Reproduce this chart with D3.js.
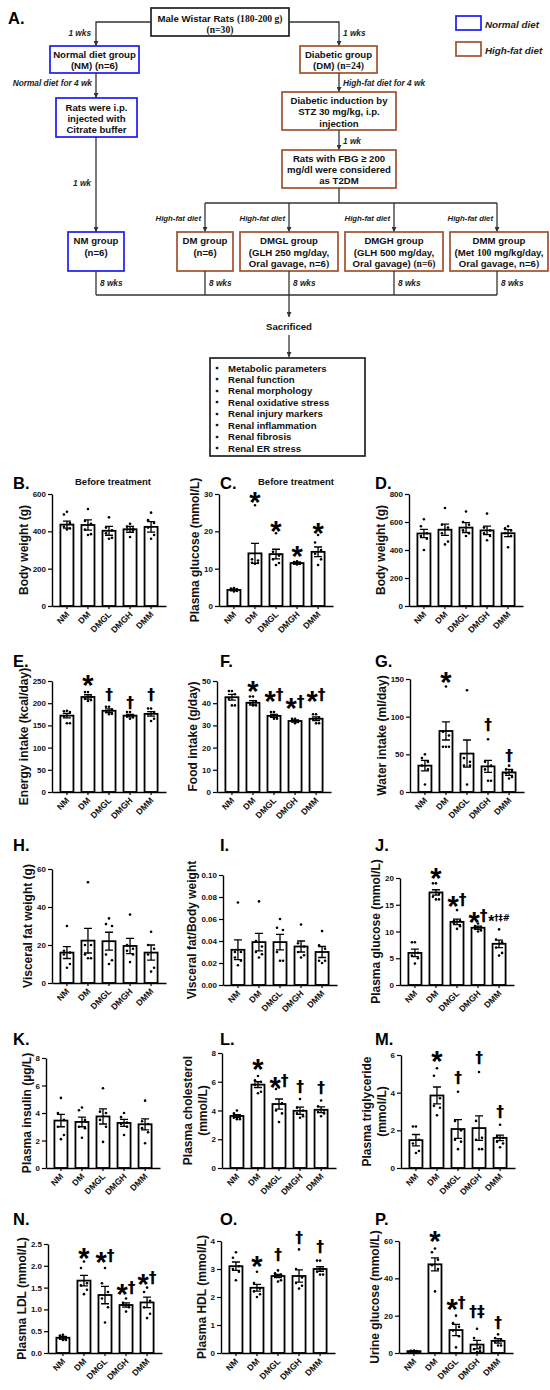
<!DOCTYPE html>
<html>
<head>
<meta charset="utf-8">
<script src="https://cdn.jsdelivr.net/npm/d3@7/dist/d3.min.js"></script>
<style>
  body { margin: 0; background: #fff; }
  svg { display: block; }
  text { font-family: "Liberation Sans", Arial, sans-serif; }
</style>
</head>
<body>
<svg id="fig" width="550" height="1390"></svg>
<script>
var groups = ["NM", "DM", "DMGL", "DMGH", "DMM"];

// B. body weight before treatment (g)
var bwPreMean = [436, 434, 403, 411, 424];
var bwPreSem = [19, 27, 24, 16, 28];
var bwPrePts = [[505, 490, 445, 425, 415, 410], [520, 455, 440, 410, 385, 380], [475, 420, 405, 390, 365, 360], [440, 425, 415, 410, 405, 370], [500, 460, 445, 420, 380, 360]];
var bwPreTicks = [0, 200, 400, 600];

// C. plasma glucose before treatment (mmol/L)
var glucPreMean = [4.3, 14.1, 13.9, 11.5, 14.5];
var glucPreSem = [0.2, 2.7, 1.3, 0.25, 1.3];
var glucPrePts = [[4.8, 4.7, 4.5, 4.2, 4.0, 3.9], [27, 12.5, 12.2, 11.6, 11.5, 11.3], [19.5, 14.5, 13.5, 12.5, 11.5, 11.0], [12.0, 11.8, 11.6, 11.4, 11.3, 11.1], [19, 17, 15, 14, 12.5, 11]];
var glucPreMarks = ["", "*", "*", "*", "*"];
var glucPreMarkY = [0, 29.5, 21.7, 15, 21.2];
var glucPreTicks = [0, 10, 20, 30];

// D. body weight (g)
var bwMean = [518, 545, 560, 540, 520];
var bwSem = [30, 40, 35, 30, 25];
var bwPts = [[620, 570, 520, 500, 480, 400], [700, 580, 560, 520, 460, 440], [675, 600, 580, 540, 520, 500], [660, 560, 540, 520, 500, 470], [570, 555, 540, 520, 500, 420]];
var bwTicks = [0, 200, 400, 600, 800];

// E. energy intake (kcal/day)
var energyMean = [172, 214, 183, 172, 176];
var energySem = [5, 5, 4, 3, 5];
var energyPts = [[183, 182, 180, 170, 155, 155], [225, 225, 215, 210, 207, 205], [192, 192, 185, 180, 176, 175], [180, 180, 172, 170, 168, 165], [188, 188, 180, 175, 165, 160]];
var energyMarks = ["", "*", "†", "†", "†"];
var energyMarkY = [0, 255, 218, 200, 218];
var energyTicks = [0, 50, 100, 150, 200, 250];

// F. food intake (g/day)
var foodMean = [42.7, 40.2, 34.3, 32.0, 33.0];
var foodSem = [1.3, 1.0, 0.7, 0.5, 0.8];
var foodPts = [[45.5, 45.5, 44, 42, 39, 39], [43, 43, 40.5, 40, 39, 39], [36, 36, 34.5, 34, 33, 33], [33, 33, 32, 32, 31.5, 31], [35, 35, 33.5, 33, 31, 31]];
var foodMarks = ["", "*", "*†", "*†", "*†"];
var foodMarkY = [0, 48.2, 43.7, 40.7, 43.7];
var foodTicks = [0, 10, 20, 30, 40, 50];

// G. water intake (ml/day)
var waterMean = [35, 81, 51, 34, 26];
var waterSem = [7, 12, 18, 8, 4];
var waterPts = [[50, 45, 40, 35, 30, 10], [140, 80, 75, 60, 60, 60], [135, 45, 40, 35, 35, 10], [70, 40, 35, 30, 15, 15], [35, 30, 28, 25, 20, 18]];
var waterMarks = ["", "*", "", "†", "†"];
var waterMarkY = [0, 154, 0, 89, 48];
var waterTicks = [0, 50, 100, 150];

// H. visceral fat weight (g)
var vfatMean = [16, 22.3, 22, 19.5, 16];
var vfatSem = [3.1, 6.5, 4.7, 4, 4];
var vfatPts = [[30, 17, 16, 15, 10, 8], [53, 20, 20, 15, 13, 13], [34, 31, 30, 15, 12, 10], [36, 20, 18, 17, 15, 11], [27, 20, 18, 15, 8, 6]];
var vfatTicks = [0, 20, 40, 60];

// I. visceral fat / body weight
var ratioMean = [0.032, 0.039, 0.039, 0.035, 0.030];
var ratioSem = [0.009, 0.008, 0.007, 0.005, 0.005];
var ratioPts = [[0.075, 0.030, 0.030, 0.025, 0.022, 0.018], [0.076, 0.040, 0.035, 0.030, 0.028, 0.025], [0.060, 0.052, 0.050, 0.030, 0.022, 0.022], [0.055, 0.038, 0.035, 0.030, 0.027, 0.025], [0.049, 0.036, 0.033, 0.022, 0.022, 0.020]];
var ratioTicks = [0, 0.02, 0.04, 0.06, 0.08, 0.10];

// J. plasma glucose (mmol/L)
var glucMean = [6.0, 17.3, 11.8, 10.7, 7.7];
var glucSem = [0.7, 0.5, 0.5, 0.3, 0.7];
var glucPts = [[8, 8, 6, 5.5, 5, 4], [19, 19, 17, 16.5, 16, 16], [14, 12, 12, 11.5, 11, 10.5], [11.5, 11, 10.8, 10.5, 10.2, 10], [10.4, 8.5, 8, 7, 6, 5.5]];
var glucMarks = ["", "*", "*†", "*†", "*†‡#"];
var glucMarkY = [0, 21.2, 15.9, 12.9, 12.4];
var glucTicks = [0, 5, 10, 15, 20];

// K. plasma insulin (µg/L)
var insMean = [3.45, 3.35, 3.75, 3.28, 3.18];
var insSem = [0.45, 0.35, 0.55, 0.25, 0.4];
var insPts = [[5.1, 4.0, 3.5, 3.0, 2.4, 2.1], [4.4, 4.2, 3.5, 3.0, 2.9, 2.2], [5.8, 4.1, 4.0, 3.5, 3.0, 1.9], [4.0, 3.7, 3.3, 3.2, 3.0, 2.4], [4.9, 3.4, 3.2, 2.9, 2.6, 1.8]];
var insTicks = [0, 2, 4, 6, 8];

// L. plasma cholesterol (mmol/L)
var cholMean = [3.62, 5.8, 4.45, 3.98, 4.05];
var cholSem = [0.1, 0.2, 0.35, 0.25, 0.2];
var cholPts = [[4.0, 3.8, 3.6, 3.5, 3.4, 3.4], [6.4, 6.1, 6.0, 5.8, 5.3, 5.2], [5.6, 5.5, 4.5, 4.0, 3.8, 3.2], [4.8, 4.2, 4.0, 3.8, 3.6, 3.5], [4.7, 4.3, 4.0, 3.9, 3.8, 3.6]];
var cholMarks = ["", "*", "*†", "†", "†"];
var cholMarkY = [0, 7.28, 6.07, 5.66, 5.54];
var cholTicks = [0, 2, 4, 6, 8];

// M. plasma triglyceride (mmol/L)
var tgMean = [1.48, 3.85, 2.07, 2.12, 1.6];
var tgSem = [0.3, 0.45, 0.5, 0.65, 0.15];
var tgPts = [[2.2, 2.2, 1.5, 1.3, 0.9, 0.8], [5.3, 4.9, 3.7, 3.3, 3.2, 2.8], [4.05, 2.5, 2.0, 1.5, 1.4, 1.0], [5.1, 2.5, 1.6, 1.5, 1.0, 1.0], [2.3, 1.7, 1.6, 1.4, 1.3, 1.1]];
var tgMarks = ["", "*", "†", "†", "†"];
var tgMarkY = [0, 6.0, 4.8, 5.83, 3.0];
var tgTicks = [0, 2, 4, 6];

// N. plasma LDL (mmol/L)
var ldlMean = [0.35, 1.66, 1.33, 1.1, 1.16];
var ldlSem = [0.03, 0.12, 0.2, 0.05, 0.12];
var ldlPts = [[0.42, 0.40, 0.35, 0.33, 0.30, 0.30], [2.1, 1.95, 1.6, 1.55, 1.45, 1.35], [1.95, 1.6, 1.4, 1.25, 1.05, 0.7], [1.25, 1.15, 1.1, 1.1, 1.05, 0.95], [1.5, 1.4, 1.2, 1.05, 0.9, 0.8]];
var ldlMarks = ["", "*", "*†", "*†", "*†"];
var ldlMarkY = [0, 2.32, 2.23, 1.5, 1.71];
var ldlTicks = [0, 0.5, 1.0, 1.5, 2.0, 2.5];

// O. plasma HDL (mmol/L)
var hdlMean = [3.1, 2.33, 2.75, 2.75, 3.0];
var hdlSem = [0.15, 0.12, 0.06, 0.22, 0.08];
var hdlPts = [[3.6, 3.4, 3.1, 3.0, 2.9, 2.6], [2.9, 2.5, 2.3, 2.2, 2.1, 2.0], [2.95, 2.85, 2.8, 2.75, 2.6, 2.55], [3.7, 3.0, 2.7, 2.5, 2.4, 2.3], [3.3, 3.3, 3.0, 2.9, 2.8, 2.8]];
var hdlMarks = ["", "*", "†", "†", "†"];
var hdlMarkY = [0, 3.32, 3.5, 4.12, 3.8];
var hdlTicks = [0, 1, 2, 3, 4];

// P. urine glucose (mmol/L)
var urineMean = [1, 47.5, 12.3, 4.5, 6.5];
var urineSem = [0.1, 3.5, 3.0, 2.3, 1.2];
var urinePts = [[1.3, 1.2, 1.0, 1.0, 0.9, 0.8], [56, 54, 50, 47, 45, 33], [20, 16, 14, 12, 9, 3], [13, 8, 3, 2, 1, 0.5], [10, 8, 7, 6, 4, 4]];
var urineMarks = ["", "*", "*†", "†‡", "†"];
var urineMarkY = [0, 63.2, 27, 22, 16.3];
var urineTicks = [0, 20, 40, 60];

var outcomes = ["Metabolic parameters", "Renal function", "Renal morphology", "Renal oxidative stress",
  "Renal injury markers", "Renal inflammation", "Renal fibrosis", "Renal ER stress"];

var BLUE = "#1c1cf2", BROWN = "#a0522d", LINE = "#333";
var svg = d3.select("#fig");

svg.append("defs").append("marker")
  .attr("id", "arr").attr("viewBox", "0 0 10 10").attr("refX", 10).attr("refY", 5)
  .attr("markerWidth", 5).attr("markerHeight", 5).attr("markerUnits", "userSpaceOnUse").attr("orient", "auto")
  .append("path").attr("d", "M0,0L10,5L0,10z").attr("fill", LINE);

function path(pts, arrow) {
  svg.append("path").attr("d", d3.line()(pts))
    .attr("fill", "none").attr("stroke", LINE).attr("stroke-width", 1.3)
    .attr("marker-end", arrow ? "url(#arr)" : null);
}

// text where {...} parts are set in a serif face
function richText(x, y, str, size, anchor) {
  var t = svg.append("text").attr("x", x).attr("y", y)
    .attr("font-size", size).attr("font-weight", "bold").attr("fill", "#111")
    .attr("text-anchor", anchor || "middle");
  str.split(/(\{[^}]*\})/).forEach(function (s) {
    if (!s) return;
    var serif = s.charAt(0) === "{";
    t.append("tspan").style("font-family", serif ? '"Liberation Serif", serif' : null)
      .text(serif ? s.slice(1, -1) : s);
  });
  return t;
}

function note(x, y, str, anchor, size) {
  svg.append("text").attr("x", x).attr("y", y).attr("font-size", size || 8.3)
    .attr("font-weight", "bold").attr("font-style", "italic").attr("fill", "#222")
    .attr("text-anchor", anchor || "start").text(str);
}

function box(x0, y0, x1, y1, color, lines, baselines) {
  svg.append("rect").attr("x", x0).attr("y", y0).attr("width", x1 - x0).attr("height", y1 - y0)
    .attr("fill", "#fff").attr("stroke", color).attr("stroke-width", 1.7);
  lines.forEach(function (l, i) { richText((x0 + x1) / 2, baselines[i], l, 9.6); });
}

// ---- A. flow chart ----
svg.append("text").attr("x", 8).attr("y", 24).attr("font-size", 16.5).attr("font-weight", "bold").text("A.");

box(151, 8, 289, 36, "#222", ["Male Wistar Rats {(180-200 g)}", "{(n=30)}"], [21.5, 32.5]);

svg.append("rect").attr("x", 456).attr("y", 16).attr("width", 25).attr("height", 14).attr("fill", "none").attr("stroke", BLUE).attr("stroke-width", 1.7);
svg.append("rect").attr("x", 456).attr("y", 42).attr("width", 25).attr("height", 14).attr("fill", "none").attr("stroke", BROWN).attr("stroke-width", 1.7);
note(485, 27.5, "Normal diet", "start", 9.8);
note(485, 53.5, "High-fat diet", "start", 9.8);

path([[151, 22], [96, 22], [96, 46]], true);
note(91, 36, "1 wks", "end");
box(50, 46, 139, 73, BLUE, ["Normal diet group", "(NM) (n=6)"], [57.5, 68.5]);
note(92, 86, "Normal diet for 4 wk", "end");
path([[96, 73], [96, 98]], true);
box(56, 98, 137, 137, BLUE, ["Rats were i.p.", "injected with", "Citrate buffer"], [110.5, 121.5, 132.5]);
path([[96, 137], [96, 232]], true);
note(91, 186, "1 wk", "end");

path([[289, 22], [339, 22], [339, 46]], true);
note(343, 36, "1 wks");
box(300, 46, 377, 73, BROWN, ["Diabetic group", "(DM) {(n=24)}"], [57.5, 68.5]);
note(343, 85.5, "High-fat diet for 4 wk");
path([[339, 73], [339, 92]], true);
box(282, 92, 396, 130, BROWN, ["Diabetic induction by", "STZ 30 mg/kg, i.p.", "injection"], [103.5, 115, 126.5]);
note(343, 143.5, "1 wk");
path([[339, 130], [339, 150]], true);
box(282, 150, 396, 188, BROWN, ["Rats with FBG ≥ 200", "mg/dl were considered", "as T2DM"], [161.5, 172.5, 183.5]);
path([[339, 188], [339, 203]], false);
path([[205, 203], [497, 203]], false);
[205, 289, 394, 497].forEach(function (x) {
  path([[x, 203], [x, 232]], true);
  note(x - 4, 221, "High-fat diet", "end", 7.8);
});

var rowB = [243.5, 255.5, 266.5];
box(68, 232, 124, 271, BLUE, ["NM group", "(n=6)"], rowB);
box(177, 232, 233, 271, BROWN, ["DM group", "(n=6)"], rowB);
box(240, 232, 338, 271, BROWN, ["DMGL group", "(GLH 250 mg/day,", "Oral gavage, n=6{)}"], rowB);
box(345, 232, 443, 271, BROWN, ["DMGH group", "(GLH 500 mg/day,", "Oral gavage) {(n=6)}"], rowB);
box(450, 232, 548, 271, BROWN, ["DMM group", "(Met {100} mg/kg/day,", "Oral gavage, n=6{)}"], rowB);

[96, 205, 289, 394, 497].forEach(function (x) {
  path([[x, 271], [x, 295]], false);
  note(x + 4, 286, "8 wks");
});
path([[96, 295], [497, 295]], false);
path([[289, 295], [289, 317]], true);
richText(289, 329.5, "Sacrificed", 9.6);
path([[289, 335], [289, 357]], true);
svg.append("rect").attr("x", 210).attr("y", 358).attr("width", 155).attr("height", 98)
  .attr("fill", "#fff").attr("stroke", "#222").attr("stroke-width", 1.7);
outcomes.forEach(function (o, i) {
  var yb = 371.5 + i * 11.45;
  richText(217, yb - 0.5, "▪", 9.5, "middle");
  richText(228, yb, o, 9.6, "start");
});

// ---- bar panels ----
var colX = [13, 220, 375];
var panels = [
  {id: "B.", col: 0, ly: 489, ax: 52, y0: 606, top: 494, max: 600, ticks: bwPreTicks, mean: bwPreMean, sem: bwPreSem, pts: bwPrePts, label: ["Body weight (g)"], title: "Before treatment", tx: 113},
  {id: "C.", col: 1, ly: 489, ax: 219, y0: 606, top: 494, max: 30, ticks: glucPreTicks, mean: glucPreMean, sem: glucPreSem, pts: glucPrePts, marks: glucPreMarks, markY: glucPreMarkY, label: ["Plasma glucose (mmol/L)"], title: "Before treatment", tx: 296},
  {id: "D.", col: 2, ly: 489, ax: 409, y0: 606, top: 494, max: 800, ticks: bwTicks, mean: bwMean, sem: bwSem, pts: bwPts, label: ["Body weight (g)"]},
  {id: "E.", col: 0, ly: 667, ax: 52, y0: 792, top: 681, max: 250, ticks: energyTicks, mean: energyMean, sem: energySem, pts: energyPts, marks: energyMarks, markY: energyMarkY, label: ["Energy intake (kcal/day)"]},
  {id: "F.", col: 1, ly: 667, ax: 217, y0: 792, top: 681, max: 50, ticks: foodTicks, mean: foodMean, sem: foodSem, pts: foodPts, marks: foodMarks, markY: foodMarkY, label: ["Food intake (g/day)"]},
  {id: "G.", col: 2, ly: 667, ax: 410, y0: 792, top: 679, max: 150, ticks: waterTicks, mean: waterMean, sem: waterSem, pts: waterPts, marks: waterMarks, markY: waterMarkY, label: ["Water intake (ml/day)"]},
  {id: "H.", col: 0, ly: 851, ax: 52, y0: 983, top: 869, max: 60, ticks: vfatTicks, mean: vfatMean, sem: vfatSem, pts: vfatPts, label: ["Visceral fat weight (g)"]},
  {id: "I.", col: 1, ly: 851, ax: 223, y0: 985, top: 875, max: 0.10, ticks: ratioTicks, fmt: d3.format(".2f"), mean: ratioMean, sem: ratioSem, pts: ratioPts, label: ["Visceral fat/Body weight"]},
  {id: "J.", col: 2, ly: 851, ax: 400, y0: 985, top: 878, max: 20, ticks: glucTicks, mean: glucMean, sem: glucSem, pts: glucPts, marks: glucMarks, markY: glucMarkY, label: ["Plasma glucose (mmol/L)"]},
  {id: "K.", col: 0, ly: 1045, ax: 46, y0: 1168, top: 1058, max: 8, ticks: insTicks, mean: insMean, sem: insSem, pts: insPts, label: ["Plasma insulin (µg/L)"]},
  {id: "L.", col: 1, ly: 1045, ax: 222, y0: 1168, top: 1053, max: 8, ticks: cholTicks, mean: cholMean, sem: cholSem, pts: cholPts, marks: cholMarks, markY: cholMarkY, label: ["Plasma cholesterol", "(mmol/L)"]},
  {id: "M.", col: 2, ly: 1045, ax: 401, y0: 1168, top: 1055, max: 6, ticks: tgTicks, mean: tgMean, sem: tgSem, pts: tgPts, marks: tgMarks, markY: tgMarkY, label: ["Plasma triglyceride", "(mmol/L)"]},
  {id: "N.", col: 0, ly: 1225, ax: 48, y0: 1353, top: 1244, max: 2.5, ticks: ldlTicks, fmt: d3.format(".1f"), mean: ldlMean, sem: ldlSem, pts: ldlPts, marks: ldlMarks, markY: ldlMarkY, label: ["Plasma LDL (mmol/L)"]},
  {id: "O.", col: 1, ly: 1225, ax: 221, y0: 1353, top: 1241, max: 4, ticks: hdlTicks, mean: hdlMean, sem: hdlSem, pts: hdlPts, marks: hdlMarks, markY: hdlMarkY, label: ["Plasma HDL (mmol/L)"]},
  {id: "P.", col: 2, ly: 1225, ax: 399, y0: 1353, top: 1241, max: 60, ticks: urineTicks, mean: urineMean, sem: urineSem, pts: urinePts, marks: urineMarks, markY: urineMarkY, label: ["Urine glucose (mmol/L)"]}
];

var jitter = [0, -3, 3, -3, 3, 0];

function drawMark(g, cx, cy, str) {
  var k = str.length >= 3 ? 0.55 : 1;
  var t = g.append("text").attr("x", cx).attr("y", cy + 5 * k)
    .attr("text-anchor", "middle").attr("font-weight", "bold").attr("fill", "#000");
  var shift = 0;
  Array.from(str).forEach(function (ch) {
    var star = ch === "*";
    var s = star ? 11 * k : 0;
    t.append("tspan").attr("dy", s - shift).attr("fill", "#000")
      .style("font-family", star ? null : '"DejaVu Sans", sans-serif')
      .attr("font-size", (star ? 29 : 15.5) * k).text(ch);
    shift = s;
  });
}

function drawPanel(p) {
  var g = svg.append("g");
  var y = d3.scaleLinear().domain([0, p.max]).range([p.y0, p.top]);
  var x = d3.scaleBand().domain(groups).range([p.ax, p.ax + 114]).paddingInner(0.38).paddingOuter(0.4);
  var bw = x.bandwidth();
  function cx(i) { return x(groups[i]) + bw / 2; }

  g.selectAll("rect.bar").data(p.mean).enter().append("rect")
    .attr("x", function (d, i) { return x(groups[i]); })
    .attr("y", function (d) { return y(d); })
    .attr("width", bw)
    .attr("height", function (d) { return p.y0 - y(d); })
    .attr("fill", "#fff").attr("stroke", "#000").attr("stroke-width", 1.8);

  p.mean.forEach(function (m, i) {
    var c = cx(i), hi = y(m + p.sem[i]), lo = y(Math.max(0, m - p.sem[i]));
    g.append("path")
      .attr("d", "M" + c + "," + hi + "V" + lo + "M" + (c - 4) + "," + hi + "H" + (c + 4) + "M" + (c - 4) + "," + lo + "H" + (c + 4))
      .attr("stroke", "#000").attr("stroke-width", 1.3).attr("fill", "none");
    g.selectAll(null).data(p.pts[i]).enter().append("circle")
      .attr("cx", function (d, j) { return c + jitter[j]; })
      .attr("cy", function (d) { return y(d); })
      .attr("r", 1.3).attr("fill", "#000");
  });

  var ya = g.append("g").attr("transform", "translate(" + p.ax + ",0)")
    .call(d3.axisLeft(y).tickValues(p.ticks).tickSize(4).tickSizeOuter(0).tickFormat(p.fmt || d3.format("d")));
  var xa = g.append("g").attr("transform", "translate(0," + p.y0 + ")")
    .call(d3.axisBottom(x).tickSize(3).tickSizeOuter(0));
  [ya, xa].forEach(function (a) {
    a.select(".domain").attr("stroke-width", 1.4);
    a.selectAll(".tick line").attr("stroke-width", 1.2);
    a.selectAll("text").attr("font-size", 8).attr("font-weight", "bold").attr("fill", "#111");
  });
  ya.selectAll("text").attr("x", -6);
  xa.selectAll("text").attr("x", 0).attr("y", 0).attr("dy", 0).attr("font-size", 8.6)
    .attr("transform", "translate(3,9) rotate(-45)").attr("text-anchor", "end");

  var bb = ya.node().getBBox();
  var lx = p.ax + bb.x - 9 + 4;
  var my = (p.y0 + p.top) / 2;
  p.label.forEach(function (l, i) {
    var off = (p.label.length - 1 - i) * 15;
    g.append("text").attr("transform", "translate(" + (lx - off) + "," + my + ") rotate(-90)")
      .attr("text-anchor", "middle").attr("font-size", 12).attr("font-weight", "bold").attr("fill", "#111")
      .text(l);
  });

  if (p.marks) {
    p.marks.forEach(function (s, i) { if (s) drawMark(g, cx(i), y(p.markY[i]), s); });
  }

  g.append("text").attr("x", colX[p.col]).attr("y", p.ly).attr("font-size", 16.5).attr("font-weight", "bold").text(p.id);
  if (p.title) {
    g.append("text").attr("x", p.tx).attr("y", 485).attr("text-anchor", "middle")
      .attr("font-size", 9.5).attr("font-weight", "bold").attr("fill", "#111").text(p.title);
  }
}

panels.forEach(drawPanel);
</script>
</body>
</html>
